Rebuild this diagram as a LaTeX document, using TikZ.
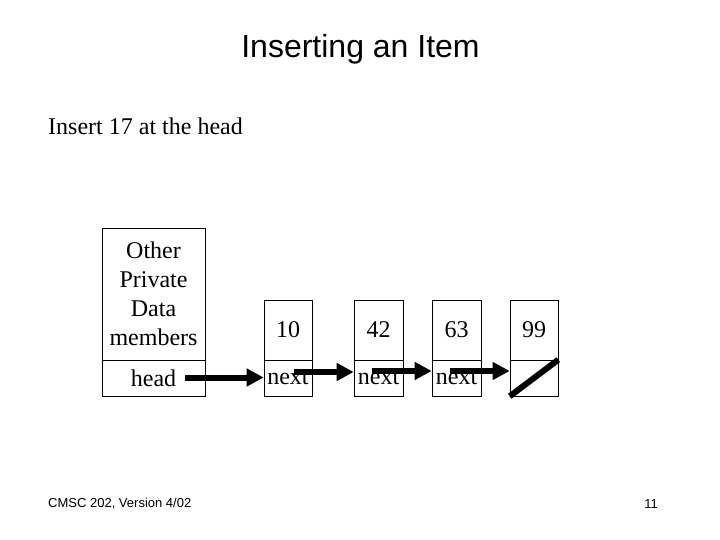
\documentclass[tikz,border=0pt]{standalone}
\usepackage{fontspec}
\setmainfont{Liberation Serif}
\newfontfamily\arial{Liberation Sans}
\usetikzlibrary{arrows.meta}
\begin{document}
\begin{tikzpicture}[x=1pt,y=-1pt,
  cell/.style={draw,line width=0.6pt,inner sep=0pt,minimum width=48pt,align=center,
    font=\fontsize{24}{29}\selectfont},
  datacell/.style={cell,minimum height=60pt},
  nextcell/.style={cell,minimum height=36pt},
  ptr/.style={line width=6pt,-{Triangle[length=17pt,width=17pt]}},
  nil/.style={line width=6pt}]
\useasboundingbox (0,0) rectangle (720,540);
\node[font=\arial\fontsize{32}{36}\selectfont,anchor=base,inner sep=0pt] (title) at (360.5,58) {Inserting an Item};
\node[anchor=base west,inner sep=0pt,font=\fontsize{24}{29}\selectfont] (sub) at (48,135) {Insert 17 at the head};
\node[cell,minimum width=103pt,minimum height=132pt] (other) at (153.5,294) {Other\\Private\\Data\\members};
\node[cell,minimum width=103pt,minimum height=36pt] (head) at (153.5,378) {head};
\node[datacell] (d10) at (288,330) {10};
\node[nextcell] (n10) at (288,378) {next};
\node[datacell,minimum width=49pt] (d42) at (378.5,330) {42};
\node[nextcell,minimum width=49pt] (n42) at (378.5,378) {next};
\node[datacell,minimum width=49pt] (d63) at (456.5,330) {63};
\node[nextcell,minimum width=49pt] (n63) at (456.5,378) {next};
\node[datacell] (d99) at (534,330) {99};
\node[nextcell] (n99) at (534,378) {};
\coordinate (s1) at (185,377.5);
\coordinate (s2) at (294,372);
\coordinate (s3) at (372,371);
\coordinate (s4) at (450,371);
\draw[ptr] (s1) -- (s1 -| n10.west);
\draw[ptr] (s2) -- (s2 -| n42.west);
\draw[ptr] (s3) -- (s3 -| n63.west);
\draw[ptr] (s4) -- (s4 -| n99.west);
\draw[nil] (n99.south west) -- (n99.north east);
\node[anchor=base west,inner sep=0pt,font=\arial\fontsize{13}{15}\selectfont] (foot) at (48,507) {CMSC 202, Version 4/02};
\node[anchor=base east,inner sep=0pt,font=\arial\fontsize{13}{15}\selectfont] (page) at (658,508) {11};
\end{tikzpicture}
\end{document}
